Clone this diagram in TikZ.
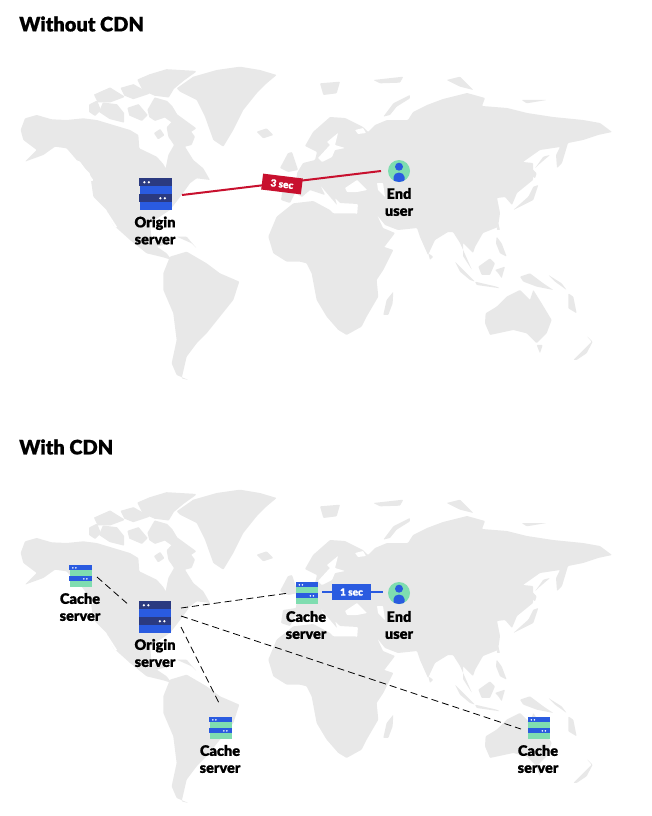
\documentclass[tikz,border=0pt]{standalone}
\usepackage{fontspec}
\setmainfont{Lato Black}[FakeBold=0.6]
\definecolor{land}{HTML}{E8E8E8}
\definecolor{hblue}{HTML}{2A5BE0}
\definecolor{hnavy}{HTML}{2B3A80}
\definecolor{hgreen}{HTML}{7FDDB0}
\definecolor{hred}{HTML}{C8102E}
\tikzset{
 ld/.style={fill=land,draw=none,rounded corners=0.8pt},
 lb/.style={fill=land,draw=land,line width=1.6pt,line join=round},
 wt/.style={fill=white,draw=none,rounded corners=0.6pt},
 lbl/.style={align=center,font=\fontsize{14.5}{17}\selectfont,text=black,inner sep=0pt},
 ttl/.style={anchor=west,font=\fontsize{20}{24}\selectfont,text=black,inner sep=0pt},
 dashline/.style={draw=black,line width=0.8pt,dash pattern=on 7pt off 4pt},
 zone/.style={x=0.3333pt,y=-0.3333pt}
}
\newcommand{\worldmap}{%
% Zoom-1 coordinates: Americas, Greenland, Africa
\begin{scope}[shift={(0,40)},zone]
\path[ld] (62,270)--(75,235)--(110,225)--(155,238)--(200,240)--(250,235)--(290,240)--(340,255)--(390,270)--(415,285)--(418,325)--(470,350)--(490,372)--(497,385)--(505,345)--(522,315)--(505,290)--(500,262)--(520,240)--(555,250)--(585,290)--(575,315)--(555,320)--(580,360)--(610,385)--(630,420)--(590,415)--(570,430)--(545,465)--(510,510)--(450,550)--(455,600)--(510,610)--(470,620)--(500,640)--(515,660)--(490,652)--(440,640)--(390,600)--(340,555)--(320,510)--(280,470)--(270,400)--(230,360)--(200,325)--(165,320)--(130,345)--(75,365)--(110,330)--(70,300)--cycle;
\path[wt] (228,360)--(240,365)--(280,420)--(275,425)--cycle;
\path[wt] (315,515)--(325,520)--(352,562)--(345,562)--cycle;
\path[ld] (530,145)--(580,110)--(650,90)--(720,80)--(780,90)--(830,105)--(800,130)--(770,160)--(730,210)--(700,270)--(670,320)--(640,300)--(615,230)--(590,180)--(540,155)--cycle;
\path[ld] (770,275)--(800,265)--(820,285)--(790,295)--cycle;
\path[ld] (530,590)--(560,590)--(590,625)--(575,610)--cycle;
\path[ld] (490,700)--(510,650)--(560,635)--(620,670)--(660,700)--(718,725)--(700,780)--(660,830)--(620,880)--(590,910)--(560,950)--(545,1015)--(565,1020)--(530,1005)--(515,970)--(530,900)--(520,820)--(490,750)--cycle;
\path[ld] (805,590)--(830,530)--(880,490)--(940,483)--(990,510)--(1000,520)--(1065,520)--(1095,530)--(1135,615)--(1180,630)--(1150,690)--(1130,720)--(1135,770)--(1100,830)--(1085,860)--(1040,885)--(1015,870)--(980,830)--(950,780)--(935,700)--(920,670)--(900,665)--(860,665)--(820,640)--cycle;
\path[ld] (1150,825)--(1160,780)--(1180,755)--(1178,790)--(1165,825)--cycle;
\end{scope}
% Zoom-6 coordinates: Arctic Canada
\begin{scope}[shift={(80,60)},zone]
\path[lb] (175,60)--(210,45)--(260,30)--(345,35)--(310,60)--(280,85)--(265,110)--(225,105)--(190,90)--cycle;
\path[lb] (205,150)--(225,115)--(260,125)--(275,140)--(290,165)--(345,205)--(330,215)--(290,195)--(255,170)--(225,180)--(210,170)--cycle;
\path[lb] (145,145)--(175,135)--(200,165)--(185,180)--(150,165)--cycle;
\path[lb] (30,135)--(50,125)--(60,150)--(45,165)--(30,155)--cycle;
\path[lb] (70,130)--(110,135)--(130,160)--(130,185)--(90,175)--(60,155)--cycle;
\path[lb] (45,105)--(90,85)--(130,110)--(90,125)--(55,125)--cycle;
\path[lb] (125,85)--(160,75)--(205,100)--(160,115)--(135,105)--cycle;
\path[lb] (225,220)--(240,210)--(250,225)--(235,235)--cycle;
\end{scope}
% Eurasia in picture pixels
\path[ld] (281,200)--(283,187)--(296,185)--(297,173)--(303,163)--(315,160)--(317,152)--(305,146)--(313,132)--(330,117)--(345,118)--(363,127)--(368,132)--(375,125)--(387,120)--(408,120)--(413,112)--(427,105)--(443,99)--(467,93)--(485,98)--(482,106)--(507,108)--(527,113)--(553,117)--(583,120)--(600,123)--(612,132)--(598,135)--(583,140)--(568,143)--(562,163)--(557,168)--(556,155)--(560,147)--(540,150)--(523,162)--(533,163)--(533,180)--(517,193)--(512,205)--(505,197)--(497,198)--(500,213)--(498,227)--(483,233)--(475,247)--(473,253)--(463,243)--(463,256)--(472,270)--(460,243)--(453,232)--(448,232)--(435,240)--(428,255)--(420,237)--(417,228)--(398,230)--(385,225)--(377,215)--(383,228)--(395,233)--(382,250)--(370,247)--(357,216)--(358,204)--(340,203)--(335,198)--(337,205)--(331,198)--(320,185)--(325,195)--(310,190)--(302,197)--(295,193)--(290,203)--cycle;
\path[wt] (330,145)--(327,142)--(338,133)--(335,145)--(345,148)--(335,150)--(332,157)--(322,162)--(318,158)--cycle;
\path[wt] (345,188)--(357,180)--(367,190)--(357,192)--(347,192)--cycle;
\path[wt] (377,183)--(383,183)--(385,197)--(378,190)--cycle;
\path[wt] (355,130)--(363,128)--(366,133)--(358,134)--cycle;
\path[ld] (280,168)--(288,153)--(292,152)--(298,170)--(288,172)--cycle;
% Zoom-2 coordinates: islands, Australia
\begin{scope}[shift={(320,40)},zone]
\path[ld] (497,820)--(530,800)--(560,770)--(600,750)--(630,780)--(640,750)--(665,790)--(695,840)--(680,880)--(650,910)--(620,880)--(580,870)--(510,885)--(495,850)--cycle;
\path[ld] (650,915)--(668,915)--(660,940)--cycle;
\path[ld] (760,960)--(790,930)--(815,905)--(800,888)--(818,905)--(800,940)--(770,960)--cycle;
\path[ld] (405,665)--(430,690)--(465,725)--(450,720)--(420,695)--cycle;
\path[ld] (465,725)--(530,740)--(540,745)--(470,735)--cycle;
\path[ld] (475,680)--(510,655)--(525,670)--(510,705)--(485,705)--cycle;
\path[ld] (525,690)--(555,680)--(545,715)--(535,700)--cycle;
\path[ld] (600,710)--(630,700)--(670,730)--(700,750)--(650,740)--(610,725)--cycle;
\path[ld] (530,590)--(545,610)--(560,650)--(540,640)--(528,610)--cycle;
\path[ld] (580,510)--(625,470)--(640,440)--(655,435)--(640,480)--(590,505)--cycle;
\path[ld] (635,385)--(650,400)--(645,415)--(632,405)--cycle;
\path[ld] (535,550)--(540,570)--(530,570)--cycle;
\path[ld] (325,640)--(340,650)--(330,660)--cycle;
\path[ld] (190,230)--(220,190)--(270,165)--(270,175)--(230,200)--(210,225)--cycle;
\path[ld] (0,130)--(60,125)--(50,160)--(10,165)--cycle;
\path[ld] (160,120)--(250,110)--(240,128)--(180,130)--cycle;
\path[ld] (380,120)--(420,110)--(460,150)--(420,140)--cycle;
\path[ld] (605,180)--(680,180)--(620,190)--cycle;
\path[ld] (745,760)--(760,770)--(770,820)--(745,805)--cycle;
\path[ld] (685,705)--(725,730)--(740,750)--(705,725)--cycle;
\path[ld] (645,385)--(670,350)--(690,345)--(655,375)--cycle;
\end{scope}
}
\newcommand{\serverIcon}[6]{% name, x, y, size, band A, band B
\node[rectangle,draw=none,fill=#6,minimum size=#4pt,inner sep=0pt] (#1) at (#2,#3) {};
\fill[#5] (#1.north west) rectangle ([yshift=-#4*0.25pt]#1.north east);
\fill[#5] ([yshift=-#4*0.5pt]#1.north west) rectangle ([yshift=-#4*0.75pt]#1.north east);
\fill[white] ([xshift=#4*0.16pt,yshift=-#4*0.14pt]#1.north west) circle (#4*0.04pt);
\fill[white] ([xshift=#4*0.3pt,yshift=-#4*0.14pt]#1.north west) circle (#4*0.04pt);
\fill[white] ([xshift=#4*0.66pt,yshift=-#4*0.64pt]#1.north west) circle (#4*0.04pt);
\fill[white] ([xshift=#4*0.8pt,yshift=-#4*0.64pt]#1.north west) circle (#4*0.04pt);
}
\newcommand{\userIcon}[3]{% name, x, y
\node[circle,fill=hgreen,minimum size=22pt,inner sep=0pt] (#1) at (#2,#3) {};
\fill[hblue] ([yshift=4.3pt]#1.center) circle (4pt);
\begin{scope}
\clip (#1.center) circle (11pt);
\fill[hblue] ([yshift=-11pt,xshift=-5.5pt]#1.center) -- ([yshift=-6pt,xshift=-5.5pt]#1.center) arc (180:0:5.5pt and 4.5pt) -- ([yshift=-11pt,xshift=5.5pt]#1.center) -- cycle;
\end{scope}
}
\begin{document}
\begin{tikzpicture}[x=1pt,y=-1pt]
\useasboundingbox (0,0) rectangle (651,816);
\fill[white] (0,0) rectangle (651,816);
\worldmap
\begin{scope}[shift={(0,423)}]\worldmap\end{scope}
\node[ttl] (t1) at (19,24) {Without CDN};
\node[ttl] (t2) at (19,447) {With CDN};
% top
\serverIcon{o1}{155.5}{194}{32}{hnavy}{hblue}
\userIcon{u1}{399}{171}
\node[lbl] (o1t) at (155,230.5) {Origin\\server};
\node[lbl] (u1t) at (399,202) {End\\user};
\coordinate (a1) at (182,195);
\coordinate (b1) at (381,171);
\draw[hred,line width=2pt] (a1) -- (b1);
\node[fill=hred,text=white,rotate=-7,minimum width=40pt,minimum height=16pt,inner sep=0pt,font=\fontsize{10}{12}\selectfont] (l1) at (282,184) {3 sec};
% bottom
\serverIcon{o2}{155}{617}{32}{hnavy}{hblue}
\node[lbl] (o2t) at (155,653) {Origin\\server};
\serverIcon{c1}{80.5}{576}{22}{hblue}{hgreen}
\node[lbl] (c1t) at (80,607) {Cache\\server};
\serverIcon{c2}{307}{593}{22}{hblue}{hgreen}
\node[lbl] (c2t) at (306,625) {Cache\\server};
\serverIcon{c3}{220.5}{728}{22}{hblue}{hgreen}
\node[lbl] (c3t) at (220,759) {Cache\\server};
\serverIcon{c4}{539}{728}{22}{hblue}{hgreen}
\node[lbl] (c4t) at (538,759) {Cache\\server};
\userIcon{u2}{399}{593}
\node[lbl] (u2t) at (399,625) {End\\user};
\coordinate (d1a) at (97,577); \coordinate (d1b) at (130,606);
\coordinate (d2a) at (181,608); \coordinate (d2b) at (289,593);
\coordinate (d3a) at (181,616); \coordinate (d3b) at (521,729);
\coordinate (d4a) at (181,627); \coordinate (d4b) at (220,705);
\draw[dashline] (d1a) -- (d1b);
\draw[dashline] (d2a) -- (d2b);
\draw[dashline] (d3a) -- (d3b);
\draw[dashline] (d4a) -- (d4b);
\coordinate (e1) at (322,592); \coordinate (e2) at (383,592);
\draw[hblue,line width=2pt] (e1) -- (e2);
\node[fill=hblue,text=white,minimum width=39pt,minimum height=16pt,inner sep=0pt,font=\fontsize{10}{12}\selectfont] (l2) at (351.5,592) {1 sec};
\end{tikzpicture}
\end{document}
